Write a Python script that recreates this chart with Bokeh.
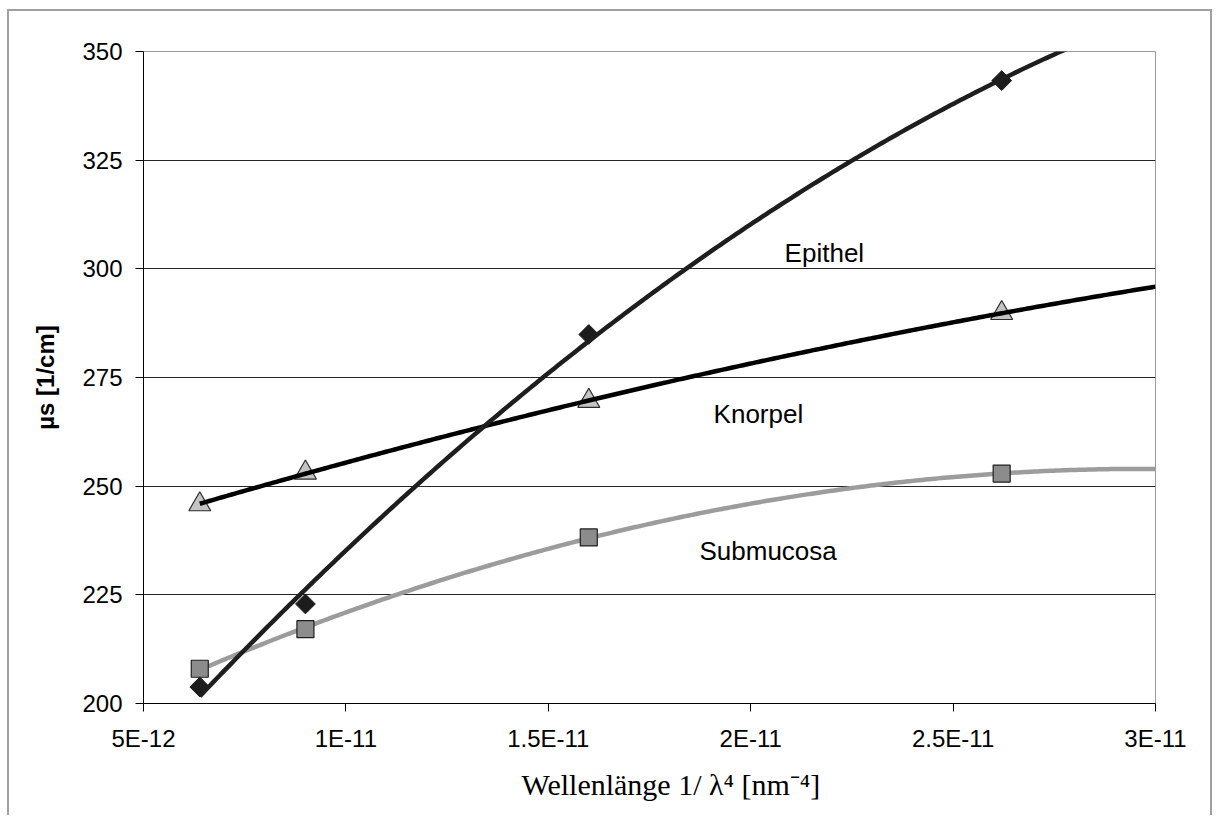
import numpy as np
from bokeh.plotting import figure
from bokeh.models import (Range1d, FixedTicker, CustomJSTickFormatter, Label,
                          Title)
from bokeh.embed import file_html
from bokeh.resources import INLINE

# Scattering coefficient versus 1/lambda^4 for three tissue layers
inv_lambda4 = [6.39e-12, 9.0e-12, 1.60e-11, 2.62e-11]   # nm^-4
epithel = [203.8, 222.9, 284.9, 343.3]                  # 1/cm
knorpel = [245.8, 253.1, 269.6, 289.8]
submucosa = [208.0, 217.1, 238.2, 252.9]

series_names = ["Epithel", "Knorpel", "Submucosa"]
x_ticks = [5e-12, 1e-11, 1.5e-11, 2e-11, 2.5e-11, 3e-11]
y_ticks = [200, 225, 250, 275, 300, 325, 350]
x_min, x_max = 5e-12, 3e-11
y_min, y_max = 200, 350

SANS = "Liberation Sans"
SERIF = "Liberation Serif"

p = figure(width=1205, height=806, output_backend="svg", toolbar_location=None,
           x_range=Range1d(x_min, x_max), y_range=Range1d(y_min, y_max),
           min_border_left=134, min_border_right=59,
           min_border_top=40, min_border_bottom=114)
# thin grey frame around the whole chart (open at the bottom edge)
p.styles = {"margin-left": "7px", "margin-top": "9px",
            "border": "2px solid #a0a0a0", "border-bottom": "none"}
p.background_fill_color = "white"
p.border_fill_color = "white"
p.outline_line_color = "#9a9a9a"
p.outline_line_width = 1

# axes
p.xaxis.ticker = FixedTicker(ticks=x_ticks)
p.xaxis.formatter = CustomJSTickFormatter(code="""
    const e = Math.floor(Math.log10(tick) + 1e-9);
    const m = Math.round(tick / Math.pow(10, e) * 10) / 10;
    return m + "E" + e;
""")
p.yaxis.ticker = FixedTicker(ticks=y_ticks)
for ax in (p.xaxis[0], p.yaxis[0]):
    ax.axis_line_color = "black"
    ax.axis_line_width = 1
    ax.major_tick_line_color = "black"
    ax.major_tick_out = 8
    ax.major_tick_in = 0
    ax.minor_tick_line_color = None
    ax.major_label_text_font = SANS
    ax.major_label_text_font_size = "24px"
    ax.major_label_text_color = "black"
p.xaxis.major_label_standoff = 13
p.yaxis.major_label_standoff = 13

p.yaxis.axis_label = "µs [1/cm]"
p.yaxis.axis_label_text_font = SANS
p.yaxis.axis_label_text_font_size = "24px"
p.yaxis.axis_label_text_font_style = "bold"
p.yaxis.axis_label_text_color = "black"
p.yaxis.axis_label_standoff = 20

# x axis title, placed a little right of the frame centre
p.add_layout(Title(text="Wellenlänge 1/ λ⁴ [nm⁻⁴]", text_font=SERIF,
                   text_font_size="30px", text_font_style="normal",
                   text_color="black", align="left", offset=378,
                   standoff=22), "below")

# horizontal grid only
p.xgrid.grid_line_color = None
p.ygrid.ticker = FixedTicker(ticks=y_ticks[1:-1])
p.ygrid.grid_line_color = "#262626"
p.ygrid.grid_line_width = 1

# second-order trend lines through each series
def trend(xs, ys):
    xf = np.array(xs) * 1e12
    coef = np.polyfit(xf, np.array(ys), 2)
    grid = np.linspace(xf[0], x_max * 1e12, 300)
    return grid / 1e12, np.polyval(coef, grid)

tx, ty = trend(inv_lambda4, submucosa)
p.line(tx, ty, line_color="#9c9c9c", line_width=4.5)
p.scatter(inv_lambda4, submucosa, marker="square", size=17,
          fill_color="#8c8c8c", line_color="#1e1e1e", line_width=1.2)

p.scatter(inv_lambda4, knorpel, marker="triangle", size=22,
          fill_color="#c4c4c4", line_color="#2a2a2a", line_width=1.2)
tx, ty = trend(inv_lambda4, knorpel)
p.line(tx, ty, line_color="black", line_width=4.5)

p.scatter(inv_lambda4, epithel, marker="square", angle=np.pi / 4, size=14,
          fill_color="#1c1c1c", line_color="#1c1c1c", line_width=1)
tx, ty = trend(inv_lambda4, epithel)
p.line(tx, ty, line_color="#1e1e1e", line_width=4.5)

# series names beside the curves
name_pos = [(21.82e-12, 303.6), (20.19e-12, 266.5), (20.43e-12, 235.0)]
for name, (lx, ly) in zip(series_names, name_pos):
    p.add_layout(Label(x=lx, y=ly, text=name, text_font=SANS,
                       text_font_size="26px", text_color="black",
                       text_align="center", text_baseline="alphabetic"))

open("out.html", "w").write(file_html(p, INLINE))
